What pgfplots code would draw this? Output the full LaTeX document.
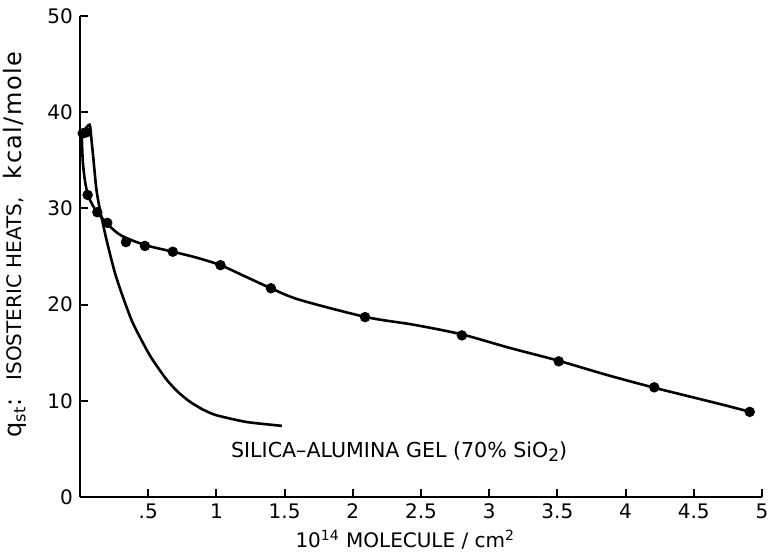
\documentclass[border=0pt]{standalone}
\usepackage{fontspec}
\setmainfont{DejaVu Sans}
\usepackage{pgfplots}
\pgfplotsset{compat=1.18}

\begin{document}
\fontsize{10}{12}\selectfont
\begin{tikzpicture}
\useasboundingbox (-40pt,-28.5pt) rectangle (344pt,248.5pt);
\begin{axis}[
    scale only axis,
    width=341pt, height=240.5pt,
    xmin=0, xmax=5, ymin=0, ymax=50,
    axis lines=left,
    axis line style={-, line width=1.2pt},
    tick style={line width=1pt, black},
    tick align=inside,
    major tick length=4pt,
    xtick={0.5,1,1.5,2,2.5,3,3.5,4,4.5,5},
    xticklabels={.5,1,1.5,2,2.5,3,3.5,4,4.5,5},
    ytick={0,10,20,30,40,50},
    yticklabels={0,10,20,30,40,50},
    xlabel={10\textsuperscript{14} MOLECULE / cm\textsuperscript{2}},
    ylabel={{\fontsize{12}{12}\selectfont q\textsubscript{st}:}\hspace{0.9em}ISOSTERIC HEATS,\hspace{0.9em}{\fontsize{12}{12}\selectfont\addfontfeatures{LetterSpace=6}kcal/mole}},
    xlabel style={at={(axis description cs:0.477,-0.089)}, anchor=center},
    ylabel style={at={(axis description cs:-0.095,0.525)}, anchor=center},
    clip=false,
]
% upper curve, through the measured points
\addplot[black, line width=1.3pt, smooth, tension=0.5] coordinates {
    (0.012,38.0) (0.02,35.0) (0.035,33.0) (0.056,31.5) (0.09,30.4)
    (0.127,29.6) (0.2,28.4) (0.3,27.2) (0.476,26.2) (0.68,25.5)
    (0.85,24.9) (1.03,24.1) (1.2,23.0) (1.4,21.7) (1.61,20.5)
    (2.1,18.7) (2.45,17.9) (2.8,16.9) (3.15,15.5) (3.5,14.2)
    (3.86,12.7) (4.2,11.4) (4.54,10.2) (4.71,9.6) (4.9,8.9)
};
% lower curve, no points
\addplot[black, line width=1.3pt, smooth, tension=0.4] coordinates {
    (0.02,37.9) (0.07,38.7) (0.085,37.0) (0.098,35.2) (0.12,32.0)
    (0.147,29.8) (0.195,26.7) (0.256,23.3) (0.317,20.7) (0.39,18.0)
    (0.513,14.7) (0.635,12.2) (0.72,10.9) (0.806,9.9) (0.9,9.1)
    (1.0,8.5) (1.22,7.8) (1.48,7.4)
};
% measured points
\addplot[only marks, mark=*, mark size=2.4pt, black] coordinates {
    (0.02,37.8) (0.045,37.9) (0.056,31.4) (0.127,29.6) (0.2,28.5)
    (0.337,26.5) (0.476,26.1) (0.68,25.5) (1.03,24.1) (1.4,21.7)
    (2.09,18.7) (2.8,16.8) (3.51,14.1) (4.21,11.4) (4.91,8.85)
};
\node[font=\fontsize{10.3}{11}\selectfont] at (axis cs:2.34,4.7)
    {SILICA--ALUMINA GEL (70\% SiO\raisebox{-0.3ex}{\fontsize{8.5}{9}\selectfont 2})};
\end{axis}
\end{tikzpicture}
\end{document}
